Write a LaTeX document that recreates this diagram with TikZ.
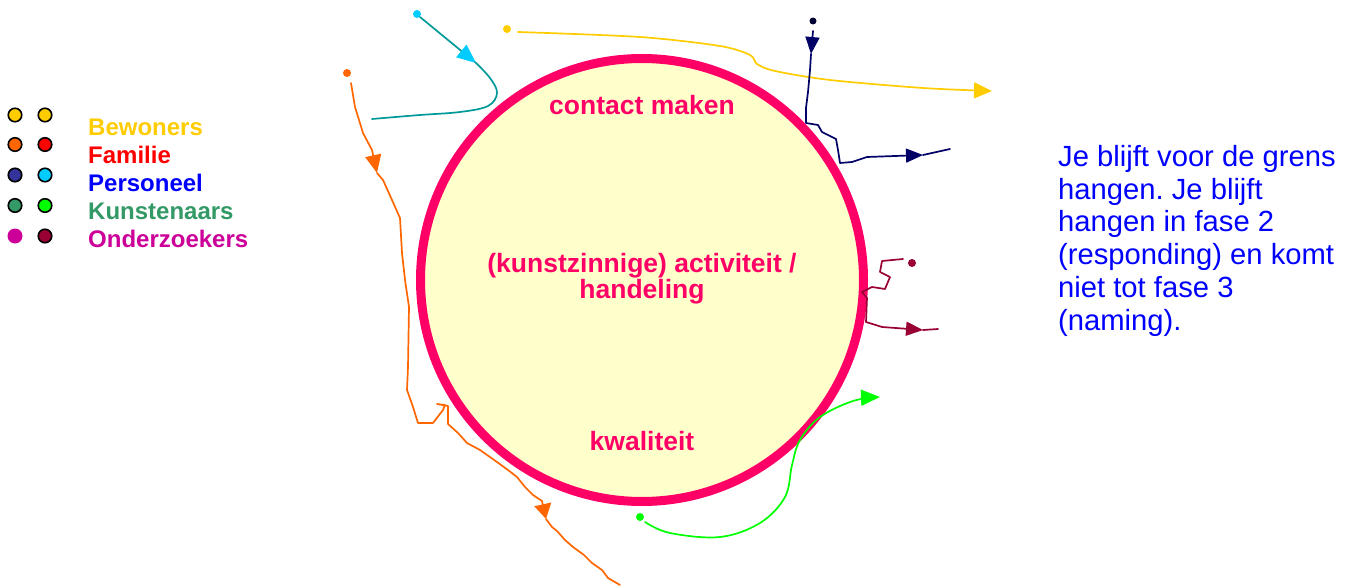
\documentclass[tikz,border=0pt]{standalone}
\usepackage{fontspec}
\setmainfont{Liberation Sans}
\usetikzlibrary{arrows.meta}
\definecolor{ringc}{HTML}{FF0066}
\definecolor{fillc}{HTML}{FFFFCC}
\definecolor{bewc}{HTML}{FFCC00}
\definecolor{famc}{HTML}{FF0000}
\definecolor{perc}{HTML}{0000FF}
\definecolor{kunc}{HTML}{339966}
\definecolor{ondc}{HTML}{CC0099}
\definecolor{orc}{HTML}{FF6600}
\definecolor{navyc}{HTML}{333399}
\definecolor{navyl}{HTML}{000066}
\definecolor{navyd}{HTML}{000033}
\definecolor{cyanc}{HTML}{00CCFF}
\definecolor{tealc}{HTML}{009999}
\definecolor{greenc}{HTML}{00FF00}
\definecolor{dredc}{HTML}{990033}
\tikzset{
  legdot/.style={circle, draw=black, line width=1.6pt, minimum size=13.5pt, inner sep=0pt},
  startdot/.style={circle, minimum size=8pt, inner sep=0pt},
  legtext/.style={anchor=base west, inner sep=0pt, font=\fontsize{24}{28}\selectfont\bfseries},
  intext/.style={anchor=base, inner sep=0pt, text=ringc, font=\fontsize{26.5}{30}\selectfont\bfseries},
  trail/.style={line width=1.7pt, line join=round, line cap=round},
  tipa/.style={-{Triangle[length=18pt,width=16pt]}},
}
\begin{document}
\frenchspacing
\begin{tikzpicture}[x=1pt,y=-1pt]
\useasboundingbox (0,0) rectangle (1348,588);

% main circle
\node[circle, draw=ringc, fill=fillc, line width=9pt, minimum size=443pt, inner sep=0pt] (circ) at (642,280) {};
\node[intext] (t1) at (642,115) {contact maken};
\node[intext] (t2) at (642,272) {(kunstzinnige) activiteit /};
\node[intext] (t3) at (642,298) {handeling};
\node[intext] (t4) at (642,450) {kwaliteit};

% legend
\node[legdot, fill=bewc] (l1a) at (15,115) {};
\node[legdot, fill=bewc] (l1b) at (45,115) {};
\node[legdot, fill=orc] (l2a) at (15,144.5) {};
\node[legdot, fill=famc] (l2b) at (45,144.5) {};
\node[legdot, fill=navyc] (l3a) at (15,175) {};
\node[legdot, fill=cyanc] (l3b) at (45,175) {};
\node[legdot, fill=kunc] (l4a) at (15,205.5) {};
\node[legdot, fill=greenc] (l4b) at (45,205.5) {};
\node[legdot, fill=ondc, draw=none, minimum size=15pt] (l5a) at (15,236) {};
\node[legdot, fill=dredc] (l5b) at (45,236) {};
\node[legtext, text=bewc] (g1) at (88,136) {Bewoners};
\node[legtext, text=famc] (g2) at (88,163.5) {Familie};
\node[legtext, text=perc] (g3) at (88,191.5) {Personeel};
\node[legtext, text=kunc] (g4) at (88,219) {Kunstenaars};
\node[legtext, text=ondc] (g5) at (88,247) {Onderzoekers};

% note
\node[anchor=north west, align=left, inner sep=0pt, text=perc,
      font=\fontsize{29.2}{32.8}\selectfont] (note) at (1058,145)
  {Je blijft voor de grens\\hangen. Je blijft\\hangen in fase 2\\(responding) en komt\\niet tot fase 3\\(naming).};

% teal / cyan trail
\node[startdot, fill=cyanc] (tdot) at (417,14) {};
\coordinate (ta) at (476,63);
\coordinate (tend) at (372,119);
\draw[trail, tealc, -{Triangle[length=19pt,width=16pt,color=cyanc]}] (tdot.south east) -- (ta);
\draw[trail, tealc] plot[smooth, tension=0.6] coordinates {(475,62) (490,78) (497,93) (488,106) (460,112) (420,115) (372,119)};

% yellow trail
\node[startdot, fill=bewc] (ydot) at (507,29) {};
\coordinate (yend) at (992,91);
\draw[trail, bewc, tipa] plot[smooth, tension=0.5] coordinates {(518,32) (640,37) (720,46) (750,55) (757,64) (775,71) (830,80) (923,88) (992,91)};

% navy trail
\node[startdot, fill=navyd, minimum size=7pt] (ndot) at (813,21) {};
\coordinate (na) at (811,54);
\coordinate (nb) at (923,155);
\coordinate (nend) at (950,149);
\draw[trail, navyl, -{Triangle[length=17pt,width=14pt]}] (813,31) -- (na);
\draw[trail, navyl, -{Triangle[length=17pt,width=14pt]}] (na) -- (810,70) -- (808,92) -- (806,108) -- (806,123) -- (818,125) -- (822,132) -- (836,139) -- (838,150) -- (840,163) -- (852,162) -- (867,157) -- (nb);
\draw[trail, navyl] (nb) -- (nend);

% dark red trail
\node[startdot, fill=dredc] (rdot) at (912,263) {};
\coordinate (ra) at (923,330);
\coordinate (rend) at (938,329);
\draw[trail, dredc, -{Triangle[length=17pt,width=14pt]}] (903,259) -- (882,261) -- (880,272) -- (890,277) -- (885,289) -- (872,287) -- (862,292) -- (867,298) -- (866,322) -- (882,327) -- (ra);
\draw[trail, dredc] (ra) -- (rend);

% orange trail
\node[startdot, fill=orc] (odot) at (347,73) {};
\coordinate (oa) at (377,173);
\coordinate (ob) at (546,519);
\coordinate (oend) at (620,585);
\draw[trail, orc, -{Triangle[length=18pt,width=16pt]}] (351,83) -- (355,107) -- (363,133) -- (372,150) -- (oa);
\draw[trail, orc, -{Triangle[length=15pt,width=17pt]}] (oa) -- (383,180) -- (392,200) -- (400,218) -- (402,253) -- (405,280) -- (409,307) -- (408,367) -- (407,390) -- (413,407) -- (418,423) -- (433,423) -- (443,410) -- (445,405) -- (437,404) -- (448,406) -- (448,424) -- (458,433) -- (467,443) -- (480,450) -- (497,462) -- (508,470) -- (517,477) -- (525,487) -- (533,495) -- (542,501) -- (ob);
\draw[trail, orc] (ob) -- (552,527) -- (557,531) -- (565,540) -- (573,547) -- (584,555) -- (592,563) -- (602,570) -- (608,578) -- (oend);

% green trail
\node[startdot, fill=greenc] (gdot) at (640,517) {};
\coordinate (gend) at (880,397);
\draw[trail, greenc, -{Triangle[length=19pt,width=16pt]}] plot[smooth, tension=0.6] coordinates {(645,522) (670,533) (720,537) (760,523) (785,497) (792,465) (800,440) (820,417) (853,401) (880,397)};
\end{tikzpicture}
\end{document}
